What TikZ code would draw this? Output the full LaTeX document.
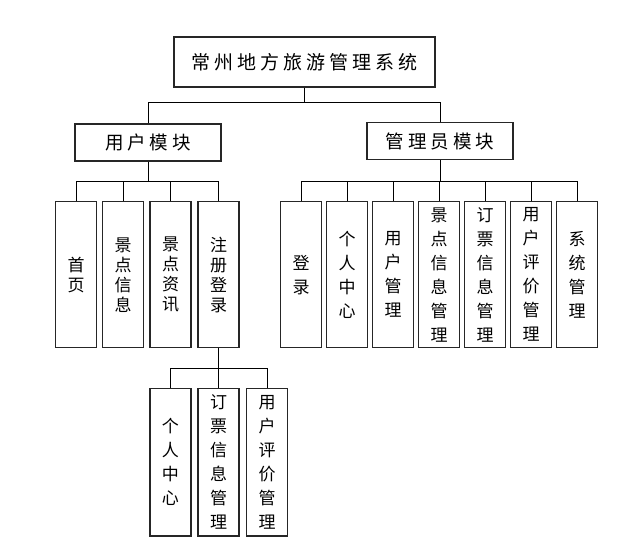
\documentclass[tikz,border=0pt]{standalone}
\usepackage{fontspec}
\setmainfont{Noto Sans CJK SC}
\newfontfamily\widecjk[LetterSpace=21]{Noto Sans CJK SC}
\usetikzlibrary{positioning,calc}
\tikzset{
  box/.style={draw=black!85,line width=1.4pt,inner sep=0pt,align=center},
  head/.style={box,minimum width=261pt,minimum height=50pt,font=\widecjk\fontsize{19}{20}\selectfont},
  mod/.style={box,minimum width=146pt,minimum height=37pt,font=\widecjk\fontsize{18.5}{20}\selectfont},
  leaf/.style={box,minimum width=41pt,minimum height=146pt,font=\fontsize{17}{20}\selectfont},
  tall/.style={leaf,font=\fontsize{17}{24}\selectfont},
  link/.style={draw=black,line width=0.9pt},
}

\begin{document}
\begin{tikzpicture}[x=1pt,y=-1pt]
\useasboundingbox (0,0) rectangle (628,549);
% top level
\node[head] (sys) at (304.5,62) {常州地方旅游管理系统};
\node[mod] (user) at (148,142.5) {用户模块};
\node[mod] (admin) at (440,141) {管理员模块};
\coordinate (j0) at (304.5,102.5);
\coordinate (j1) at (148,181.7);
\coordinate (j2) at (440,181.7);
\coordinate (j3) at (218.5,368.3);
% user module
\node[leaf] (u1) at (76,274.7) {首\\页};
\node[leaf] (u2) at (123,274.7) {景\\点\\信\\息};
\node[leaf] (u3) at (170.5,274.7) {景\\点\\资\\讯};
\node[leaf] (u4) at (218.5,274.7) {注\\册\\登\\录};
% admin module
\node[tall] (a1) at (301,274.7) {登\\录};
\node[tall] (a2) at (347,274.7) {个\\人\\中\\心};
\node[tall] (a3) at (393,274.7) {用\\户\\管\\理};
\node[tall] (a4) at (439,274.7) {景\\点\\信\\息\\管\\理};
\node[tall] (a5) at (485,274.7) {订\\票\\信\\息\\管\\理};
\node[tall] (a6) at (531,274.7) {用\\户\\评\\价\\管\\理};
\node[tall] (a7) at (577,274.7) {系\\统\\管\\理};
% below register
\node[tall,minimum height=147.7pt] (l1) at (170.3,462.2) {个\\人\\中\\心};
\node[tall,minimum height=147.7pt] (l2) at (218.5,462.2) {订\\票\\信\\息\\管\\理};
\node[tall,minimum height=147.7pt] (l3) at (267,462.2) {用\\户\\评\\价\\管\\理};
% links
\draw[link] (sys.south) -- (j0);
\draw[link] (user.north) |- (j0) -| (admin.north);
\draw[link] (user.south) -- (j1);
\draw[link] (u1.north) |- (j1) -| (u4.north);
\draw[link] (u2.north) -- (u2.north|-j1);
\draw[link] (u3.north) -- (u3.north|-j1);
\draw[link] (admin.south) -- (j2);
\draw[link] (a1.north) |- (j2) -| (a7.north);
\draw[link] (a2.north) -- (a2.north|-j2);
\draw[link] (a3.north) -- (a3.north|-j2);
\draw[link] (a4.north) -- (a4.north|-j2);
\draw[link] (a5.north) -- (a5.north|-j2);
\draw[link] (a6.north) -- (a6.north|-j2);
\draw[link] (u4.south) -- (j3);
\draw[link] (l1.north) |- (j3) -| (l3.north);
\draw[link] (l2.north) -- (j3);
\end{tikzpicture}
\end{document}
